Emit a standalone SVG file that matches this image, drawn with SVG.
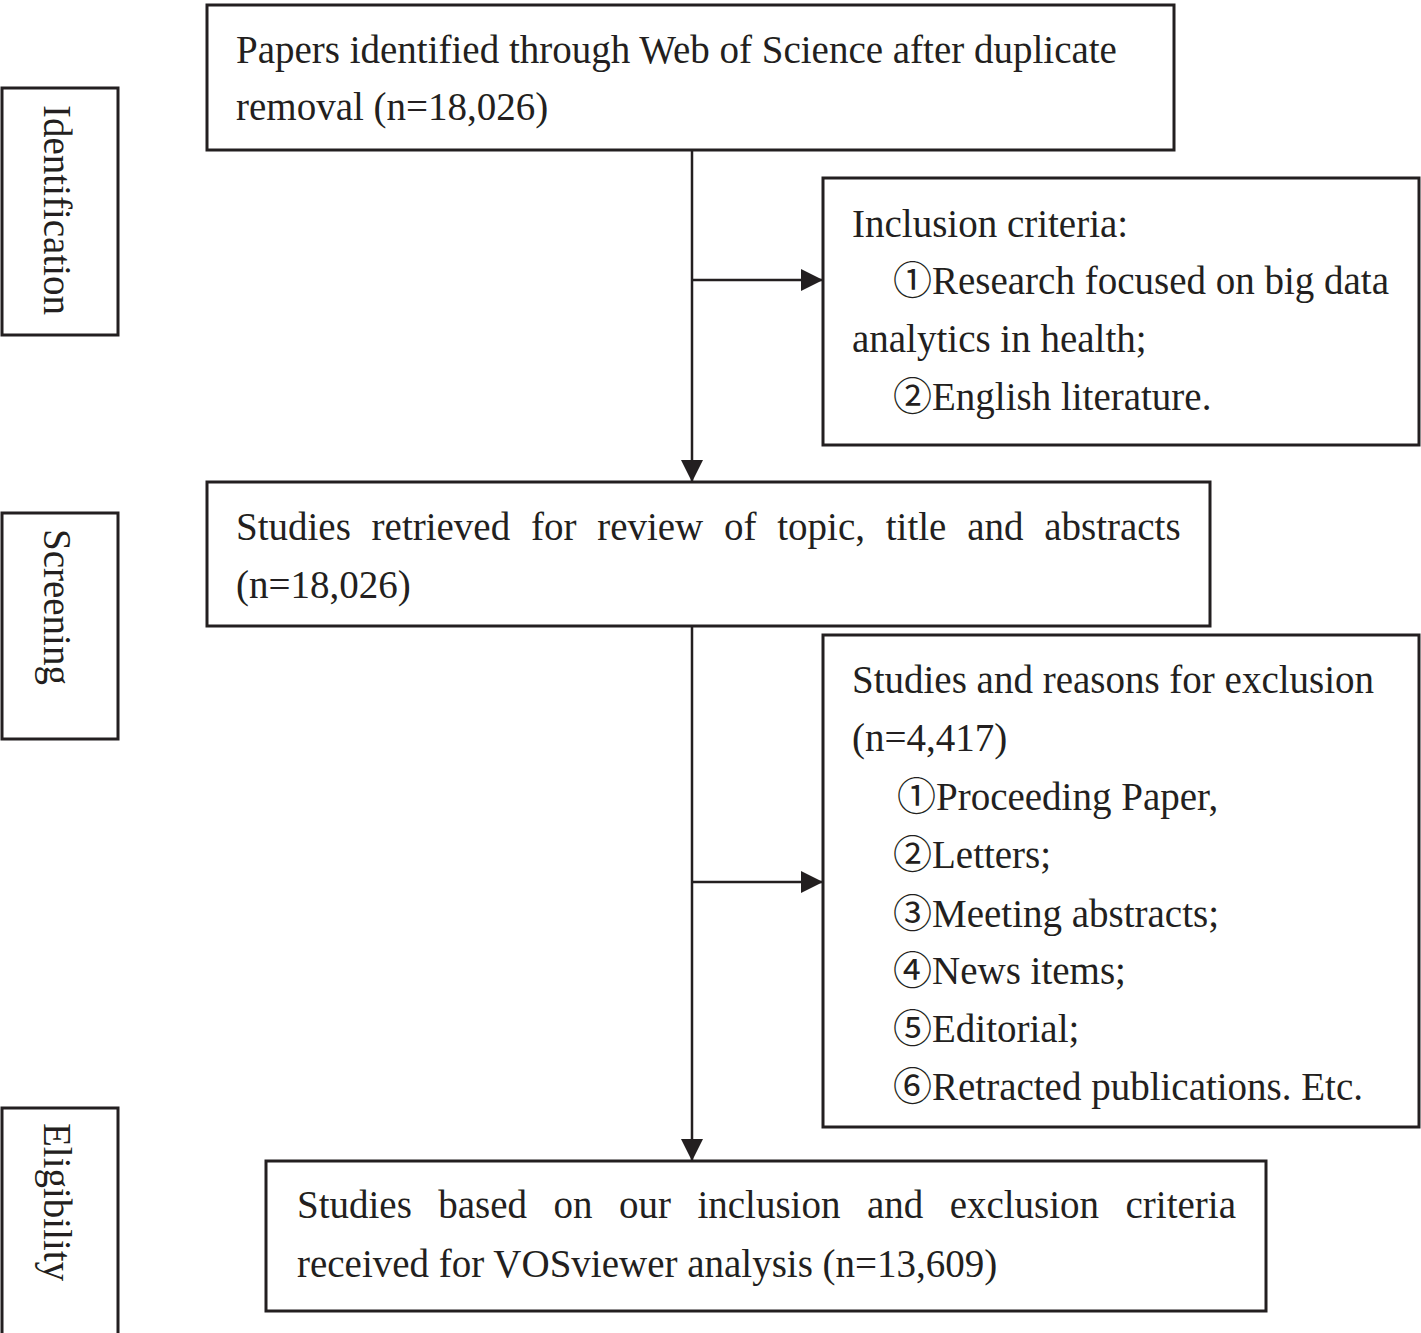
<svg xmlns="http://www.w3.org/2000/svg" width="1421" height="1333" viewBox="0 0 1421 1333">
<style>
.box{fill:#ffffff;stroke:#231f20;stroke-width:3}
.t{font-family:"Liberation Serif","Noto Sans CJK SC",serif;font-size:39px;fill:#231f20}
.ln{fill:none;stroke:#231f20;stroke-width:2.5}
</style>
<defs>
<marker id="ah" markerUnits="userSpaceOnUse" markerWidth="24" markerHeight="24" refX="22" refY="11" orient="auto">
<path d="M0,0 L22,11 L0,22 Z" fill="#231f20"/>
</marker>
</defs>
<rect width="1421" height="1333" fill="#ffffff"/>

<g id="stage-identification">
<rect class="box" x="2" y="88" width="116" height="247"/>
<text class="t" transform="translate(44,105) rotate(90)">Identification</text>
</g>
<g id="stage-screening">
<rect class="box" x="2" y="513" width="116" height="226"/>
<text class="t" transform="translate(44,529) rotate(90)">Screening</text>
</g>
<g id="stage-eligibility">
<rect class="box" x="2" y="1108" width="116" height="228"/>
<text class="t" transform="translate(44,1123) rotate(90)">Eligibility</text>
</g>

<g id="connectors">
<path class="ln" d="M692,150 V482" marker-end="url(#ah)"/>
<path class="ln" d="M692,280 H823" marker-end="url(#ah)"/>
<path class="ln" d="M692,626 V1161" marker-end="url(#ah)"/>
<path class="ln" d="M692,882 H823" marker-end="url(#ah)"/>
</g>

<g id="node-identified">
<rect class="box" x="207" y="5" width="967" height="145"/>
<text class="t" x="236" y="63">Papers identified through Web of Science after duplicate</text>
<text class="t" x="236" y="120">removal (n=18,026)</text>
</g>

<g id="node-inclusion">
<rect class="box" x="823" y="178" width="596" height="267"/>
<text class="t" x="852" y="237">Inclusion criteria:</text>
<text class="t" x="893" y="294">①Research focused on big data</text>
<text class="t" x="852" y="352">analytics in health;</text>
<text class="t" x="893" y="410">②English literature.</text>
</g>

<g id="node-screened">
<rect class="box" x="207" y="482" width="1003" height="144"/>
<text class="t" x="236" y="540" style="word-spacing:11px">Studies retrieved for review of topic, title and abstracts</text>
<text class="t" x="236" y="598">(n=18,026)</text>
</g>

<g id="node-exclusion">
<rect class="box" x="823" y="635" width="596" height="492"/>
<text class="t" x="852" y="693">Studies and reasons for exclusion</text>
<text class="t" x="852" y="751">(n=4,417)</text>
<text class="t" x="897" y="810">①Proceeding Paper,</text>
<text class="t" x="893" y="868">②Letters;</text>
<text class="t" x="893" y="927">③Meeting abstracts;</text>
<text class="t" x="893" y="984">④News items;</text>
<text class="t" x="893" y="1042">⑤Editorial;</text>
<text class="t" x="893" y="1100">⑥Retracted publications. Etc.</text>
</g>

<g id="node-eligible">
<rect class="box" x="266" y="1161" width="1000" height="150"/>
<text class="t" x="297" y="1218" style="word-spacing:16.7px">Studies based on our inclusion and exclusion criteria</text>
<text class="t" x="297" y="1277">received for VOSviewer analysis (n=13,609)</text>
</g>
</svg>
